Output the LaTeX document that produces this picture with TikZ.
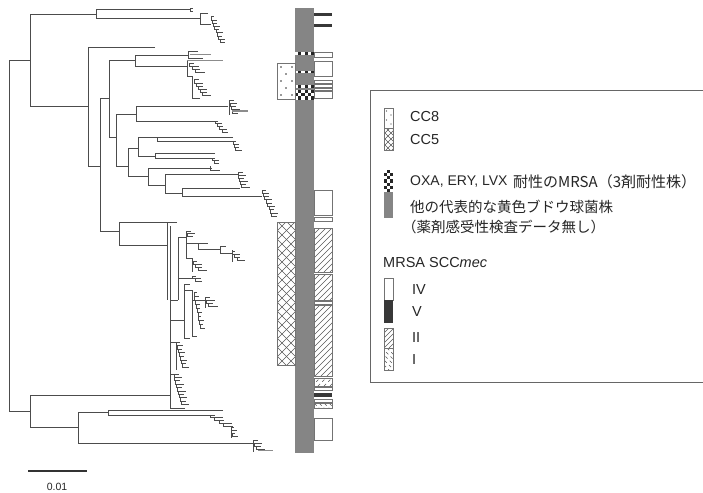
\documentclass[tikz,border=0pt]{standalone}
\usepackage{fontspec}
\setmainfont{Liberation Sans}
\newfontfamily\jp{Noto Sans CJK JP}
\tikzset{
 br/.style={draw=black!70, line width=1pt},
 brg/.style={draw=black!45, line width=1pt},
 cellbox/.style={draw=black!55, line width=0.7pt},
 barfill/.style={fill=black!48},
 darkv/.style={fill=black!78},
 hl/.style={draw=black!65, line width=0.6pt},
 lbl/.style={anchor=west, inner sep=0pt, font=\fontsize{14.5}{17}\selectfont, text=black!85},
 lbls/.style={anchor=west, inner sep=0pt, font=\fontsize{14}{16}\selectfont, text=black!85},
 jlbl/.style={anchor=west, inner sep=0pt, font=\jp\fontsize{14.5}{17}\selectfont, text=black!85},
}
\newcommand\tipcomb[6]{%
  \foreach \i in {1,...,#3}{%
    \draw[br] ({#1+(\i-1)*#4},{#2+(\i-1)*#5}) -- ++({#6*(1-0.35*mod(\i,2))},0);
    \ifnum\i<#3 \draw[br] ({#1+(\i-1)*#4},{#2+(\i-1)*#5}) -- ++(0,#5) -- ++(#4,0);\fi
  }}
\newcommand\hatchbox[7]{% x1 y1 x2 y2 spacing dir style
  \begin{scope}
    \clip (#1,#2) rectangle (#3,#4);
    \pgfmathsetmacro\hh{#4-#2}
    \foreach \k in {0,...,60}{%
      \draw[hl,#7] ({#1-\hh-#5+\k*#5},{ifthenelse(#6>0,#4,#2)}) -- ++({\hh+20},{-#6*(\hh+20)});
    }
  \end{scope}}
\newcommand\checkband[6]{% x y cols rows w h
  \foreach \r in {1,...,#4}{\foreach \c in {1,...,#3}{%
    \pgfmathtruncatemacro\cpar{mod(\r+\c,2)}%
    \ifnum\cpar=0 \fill[white] ({#1+(\c-1)*#5},{#2+(\r-1)*#6}) rectangle ++(#5,#6);
    \else \fill[black!85] ({#1+(\c-1)*#5},{#2+(\r-1)*#6}) rectangle ++(#5,#6);\fi
  }}}
\begin{document}
\begin{tikzpicture}[x=1pt,y=-1pt]
\useasboundingbox (0,0) rectangle (703,492);
\fill[white] (0,0) rectangle (703,492);
% ---------------- tree ----------------
\draw[br] (30,61) -- (9,61) -- (9,411) -- (30,411);
% clade A
\draw[br] (96,15) -- (30,15) -- (30,107) -- (88,107);
\draw[br] (190,10) -- (96,10) -- (96,19) -- (200,19);
\draw[br] (190,8.5) -- (190,11.5);
\draw[br] (190,8.5) -- (193,8.5);
\draw[br] (190,11.5) -- (193,11.5);
\draw[br] (208,14) -- (200,14) -- (200,25) -- (211,25);
\tipcomb{211}{17}{9}{1.3}{3.2}{5}
% clade B
\draw[br] (155,48) -- (88,48) -- (88,166) -- (100,166);
\draw[br] (109,99) -- (100,99) -- (100,231) -- (119,231);
\draw[br] (135,61) -- (109,61) -- (109,137) -- (116,137);
\draw[br] (188,56) -- (135,56) -- (135,67) -- (187,67);
\draw[br] (198,52) -- (188,52) -- (188,59) -- (203,59);
\draw[brg] (190,54.5) -- (211,54.5);
\draw[brg] (187,61) -- (223,61);
\draw[br] (187,61) -- (187,77) -- (192,77) -- (192,99) -- (200,99);
\tipcomb{189}{64}{4}{3}{3}{7}
\tipcomb{194}{80}{6}{2}{3.2}{7}
\draw[br] (136,114) -- (116,114) -- (116,166) -- (128,166);
\draw[br] (228,107) -- (136,107) -- (136,121) -- (215,121);
\draw[br] (229,101) -- (229,115);
\tipcomb{229}{101}{5}{1.2}{3}{7}
\draw[brg] (232,111) -- (248,111);
\tipcomb{215}{121}{5}{2.4}{2.9}{5}
\draw[br] (138,148) -- (128,148) -- (128,176) -- (148,176);
\draw[br] (157,137) -- (138,137) -- (138,156) -- (155,156);
\draw[br] (233,137) -- (157,137) -- (157,141) -- (233,141);
\tipcomb{233}{141}{4}{1.4}{3}{5}
\draw[br] (215,153) -- (155,153) -- (155,158) -- (212,158);
\tipcomb{212}{158}{3}{2}{2.6}{5}
\draw[br] (212,168) -- (148,168) -- (148,185) -- (165,185);
\draw[br] (210,166) -- (210,170) -- (220,170);
\draw[br] (238,174) -- (165,174) -- (165,193) -- (182,193);
\draw[br] (240,188) -- (182,188) -- (182,196) -- (262,196);
\tipcomb{238}{172}{6}{0.9}{3}{7}
\tipcomb{262}{190}{9}{1.4}{3.3}{6}
% clade C (CC5)
\draw[br] (177,222) -- (119,222) -- (119,245) -- (167,245);
\draw[br] (167,223) -- (167,300);
\draw[br] (170,226) -- (170,408);
\draw[br] (170,300) -- (178,300);
\draw[br] (178,237) -- (178,300);
\draw[br] (178,237) -- (186,237);
\draw[br] (186,231) -- (186,258);
\tipcomb{186}{231}{3}{1}{2.5}{8}
\draw[br] (186,243) -- (208,243);
\draw[br] (198,243) -- (198,249) -- (220,249);
\draw[br] (220,246) -- (220,253) -- (232,253);
\draw[br] (220,246) -- (226,246);
\draw[br] (232,250) -- (232,262);
\tipcomb{232}{251}{4}{2.5}{3}{5}
\draw[br] (186,258) -- (192,258) -- (192,272);
\tipcomb{193}{261}{4}{2.5}{3}{6}
\draw[br] (178,278) -- (192,278);
\tipcomb{192}{276}{3}{3}{2.5}{6}
\draw[br] (170,320) -- (184,320);
\draw[br] (184,284) -- (184,338) -- (190,338);
\draw[br] (184,284) -- (190,284);
\draw[br] (184,290) -- (192,290) -- (192,336) -- (197,336);
\tipcomb{194}{292}{10}{0.8}{4}{4}
\draw[br] (192,300) -- (205,300);
\draw[br] (205,297) -- (205,308);
\tipcomb{205}{297}{4}{1.5}{3.3}{8}
\draw[br] (170,342) -- (176,342) -- (176,370);
\tipcomb{176}{342}{8}{1}{3.6}{6}
\draw[br] (170,374) -- (174,374);
\tipcomb{174}{374}{10}{0.9}{3.4}{7}
\draw[br] (170,408) -- (185,408);
% bottom clade
\draw[br] (30,395) -- (170,395);
\draw[br] (30,395) -- (30,427) -- (78,427);
\draw[br] (78,412) -- (78,443) -- (253,443);
\draw[br] (78,412) -- (108,412);
\draw[br] (223,410) -- (108,410) -- (108,415) -- (210,415);
\tipcomb{210}{415}{5}{4.5}{2.8}{8}
\draw[br] (231,426) -- (231,438);
\tipcomb{231}{427}{4}{0.5}{3.3}{5}
\draw[br] (253,440) -- (253,452);
\tipcomb{253}{440}{4}{1.5}{3}{7}
\draw[brg] (258,450) -- (273,450);
% scale bar
\draw[black!80, line width=1.6pt] (28,471) -- (87,471);
\node[font=\fontsize{10.5}{12}\selectfont, text=black!85] (scalelbl) at (57,487) {0.01};
% ---------------- bars ----------------
\fill[barfill] (295,8) rectangle (314,453);
\checkband{295}{52.5}{6}{1}{3.167}{3}
\checkband{295}{71}{6}{1}{3.167}{2.5}
\checkband{295}{85}{6}{1}{3.167}{3}
\checkband{295}{90}{6}{3}{3.167}{3.2}
% SCCmec column
\fill[darkv] (314,13) rectangle (332,16);
\fill[darkv] (314,24) rectangle (332,27);
\draw[cellbox, fill=white] (314,52.5) rectangle (332,57.5);
\draw[cellbox, fill=white] (314,61) rectangle (332,76);
\draw[cellbox, fill=white] (314,80.5) rectangle (332,83);
\draw[cellbox, fill=white] (314,84.5) rectangle (332,87);
\draw[cellbox, fill=white] (314,88) rectangle (332,90.5);
\draw[cellbox, fill=white] (314,91) rectangle (332,98.5);
\draw[cellbox, fill=white] (314,190) rectangle (332,215);
\draw[cellbox, fill=white] (314,217) rectangle (332,221);
\hatchbox{314}{228}{332}{272}{6}{1}{}
\draw[cellbox] (314,228) rectangle (332,272);
\hatchbox{314}{274}{332}{300}{6}{1}{}
\draw[cellbox] (314,274) rectangle (332,300);
\draw[cellbox] (314,301.5) rectangle (332,304);
\hatchbox{314}{305}{332}{376}{6}{1}{}
\draw[cellbox] (314,305) rectangle (332,376);
\hatchbox{314}{378}{332}{386}{6}{1}{dashed}
\draw[cellbox] (314,378) rectangle (332,386);
\draw[cellbox, fill=white] (314,387.5) rectangle (332,390);
\fill[darkv] (314,392.5) rectangle (332,397);
\draw[cellbox, fill=white] (314,399.5) rectangle (332,402.5);
\hatchbox{314}{403.5}{332}{408}{5}{-1}{dashed}
\draw[cellbox] (314,403.5) rectangle (332,408);
\draw[cellbox, fill=white] (314,418) rectangle (332,440);
% CC8 / CC5 column
\draw[cellbox, fill=white] (277,63) rectangle (295,99);
\foreach \yy/\xx in {67/281,67/292,74/286,81/281,81/292,88/286,95/281,95/292}
  \fill[black!80] (\xx,\yy) circle (0.9pt);
\hatchbox{277}{222}{295}{365}{9}{1}{}
\hatchbox{277}{222}{295}{365}{9}{-1}{}
\draw[cellbox] (277,222) rectangle (295,365);
% ---------------- legend ----------------
\draw[black!60, line width=0.8pt] (706,90) -- (370,90) -- (370,382) -- (706,382);
\draw[cellbox, fill=white] (384,108) rectangle (393,128);
\foreach \yy/\xx in {111/386.5,115/391,120/386.5,124/391}
  \fill[black!80] (\xx,\yy) circle (0.7pt);
\hatchbox{384}{128}{393}{150}{6}{1}{}
\hatchbox{384}{128}{393}{150}{6}{-1}{}
\draw[cellbox] (384,128) rectangle (393,150);
\checkband{384}{170}{3}{7}{3}{3.143}
\fill[barfill] (384,192) rectangle (393,218);
\draw[cellbox, fill=white] (384,278) rectangle (393,300);
\fill[darkv] (384,300) rectangle (393,323);
\hatchbox{384}{328}{393}{348}{5}{1}{}
\draw[cellbox] (384,328) rectangle (393,348);
\hatchbox{384}{348}{393}{370}{5}{-1}{dashed}
\draw[cellbox] (384,348) rectangle (393,370);
\node[lbl] (cc8) at (410,117) {CC8};
\node[lbl] (cc5) at (410,140) {CC5};
\node[lbls] (oxa) at (410,182) {OXA, ERY, LVX};
\node[jlbl, font=\jp\fontsize{15}{17}\selectfont] (oxaj) at (513,182) {耐性のMRSA（3剤耐性株）};
\node[jlbl] (oth1) at (410,207) {他の代表的な黄色ブドウ球菌株};
\node[jlbl] (oth2) at (402,227) {（薬剤感受性検査データ無し）};
\node[lbl] (mrsa) at (383,263) {MRSA SCC\textit{mec}};
\node[lbl] (iv) at (412,290) {IV};
\node[lbl] (v) at (412,312) {V};
\node[lbl] (ii) at (412,338) {II};
\node[lbl] (i) at (412,360) {I};
\end{tikzpicture}
\end{document}
